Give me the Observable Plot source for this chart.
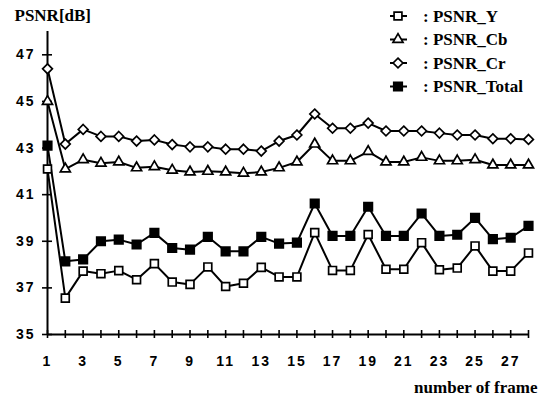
<!DOCTYPE html>
<html><head><meta charset="utf-8">
<script src="https://cdn.jsdelivr.net/npm/d3@7"></script>
<script src="https://cdn.jsdelivr.net/npm/@observablehq/plot@0.6"></script>
<style>
body{margin:0;background:#fff;}
#wrap{position:relative;width:544px;height:396px;background:#fff;}
#wrap g[aria-label="y-axis tick label"] text,
#wrap g[aria-label="x-axis tick label"] text{letter-spacing:2px;}
#wrap g[aria-label="chart title"] text,
#wrap g[aria-label="x title"] text,
#wrap .legend text{font-family:"Liberation Serif",serif !important;font-weight:bold;}
</style></head><body><div id="wrap"></div>
<script>
const frames = [1,2,3,4,5,6,7,8,9,10,11,12,13,14,15,16,17,18,19,20,21,22,23,24,25,26,27,28];
const xTickLabels = [1,3,5,7,9,11,13,15,17,19,21,23,25,27];
const yTicks = [35,37,39,41,43,45,47];
const xDomain = [1,28];
const yDomain = [35,48];
const titleText = "PSNR[dB]";
const xTitleText = "number of frame";

const psnrY = [42.1, 36.56, 37.72, 37.61, 37.74, 37.35, 38.04, 37.25, 37.15, 37.9, 37.06, 37.2, 37.88, 37.47, 37.47, 39.37, 37.75, 37.75, 39.29, 37.8, 37.8, 38.94, 37.78, 37.85, 38.8, 37.72, 37.72, 38.5];
const psnrCb = [45.0, 42.1, 42.5, 42.35, 42.4, 42.15, 42.2, 42.05, 41.97, 42.0, 41.97, 41.92, 41.97, 42.15, 42.4, 43.17, 42.45, 42.45, 42.85, 42.4, 42.4, 42.6, 42.45, 42.45, 42.5, 42.27, 42.27, 42.27];
const psnrCr = [46.4, 43.17, 43.8, 43.5, 43.5, 43.3, 43.35, 43.15, 43.05, 43.05, 42.95, 42.95, 42.87, 43.3, 43.56, 44.46, 43.85, 43.85, 44.07, 43.73, 43.73, 43.73, 43.64, 43.56, 43.56, 43.4, 43.4, 43.37];
const psnrTotal = [43.1, 38.14, 38.22, 39.0, 39.07, 38.86, 39.36, 38.71, 38.64, 39.19, 38.57, 38.57, 39.19, 38.9, 38.94, 40.62, 39.23, 39.23, 40.48, 39.23, 39.23, 40.19, 39.23, 39.28, 40.0, 39.09, 39.15, 39.66];

const seriesNames = ["PSNR_Y", "PSNR_Cb", "PSNR_Cr", "PSNR_Total"];
const seriesValues = [psnrY, psnrCb, psnrCr, psnrTotal];
const seriesSymbols = ["square2", "triangle2", "diamond2", "square2"];
const d3Symbols = [d3.symbolSquare2, d3.symbolTriangle2, d3.symbolDiamond2, d3.symbolSquare2];
const seriesFill = ["#fff", "#fff", "#fff", "#000"];
const seriesR = [5.0, 4.8, 4.4, 5.4];

const tables = seriesValues.map(vals => vals.map((v, i) => ({frame: frames[i], value: v})));

const serif = "Liberation Serif";
const sans = "Liberation Sans";

const marks = [
  Plot.ruleX([xDomain[0]], {y1: yDomain[0], y2: yDomain[1], strokeWidth: 2}),
  Plot.ruleY([yDomain[0]], {x1: xDomain[0], x2: xDomain[1], strokeWidth: 2}),
  Plot.ruleY(yTicks, {y: d => d, x1: xDomain[0], x2: xDomain[0], insetLeft: -5, insetRight: -5, strokeWidth: 1.6}),
  Plot.ruleX(frames, {x: d => d, y1: yDomain[0], y2: yDomain[0], insetTop: -4, insetBottom: -4, strokeWidth: 1.6}),
  Plot.axisY({ticks: yTicks, tickSize: 0, tickPadding: 12, label: null, fontSize: 14, fontWeight: "bold", fontFamily: sans}),
  Plot.axisX({ticks: xTickLabels, tickSize: 0, tickPadding: 22, label: null, fontSize: 14, fontWeight: "bold", fontFamily: sans, tickFormat: d => String(d)})
];
tables.forEach((t, k) => {
  marks.push(Plot.line(t, {x: "frame", y: "value", stroke: "#000", strokeWidth: 2}));
});
tables.forEach((t, k) => {
  marks.push(Plot.dot(t, {x: "frame", y: "value", symbol: () => seriesSymbols[k], r: seriesR[k], fill: seriesFill[k], stroke: "#000", strokeWidth: 1.7}));
});
marks.push(Plot.text([titleText], {ariaLabel: "chart title", frameAnchor: "top-left", dx: -33, dy: -16, textAnchor: "start", lineAnchor: "middle", fontSize: 17, fontWeight: "bold", fontFamily: serif, fill: "#000"}));
marks.push(Plot.text([xTitleText], {ariaLabel: "x title", frameAnchor: "bottom-right", dx: 9, dy: 53, textAnchor: "end", lineAnchor: "middle", fontSize: 17, fontWeight: "bold", fontFamily: serif, fill: "#000"}));

const chart = Plot.plot({
  width: 544, height: 396,
  marginLeft: 47, marginRight: 16, marginTop: 31, marginBottom: 62,
  x: {domain: xDomain},
  y: {domain: yDomain},
  symbol: {type: "identity"},
  style: {background: "#fff", color: "#000", overflow: "visible"},
  marks
});
const wrap = document.getElementById("wrap");
wrap.appendChild(chart);

// legend overlay
const lg = d3.create("svg").attr("class", "legend").attr("width", 544).attr("height", 396)
  .style("position", "absolute").style("left", "0px").style("top", "0px").style("pointer-events", "none");
seriesNames.forEach((name, i) => {
  const y = 16 + i * 23.5;
  const g = lg.append("g").attr("transform", `translate(398,${y})`);
  g.append("line").attr("x1", -8).attr("x2", 9).attr("stroke", "#000").attr("stroke-width", 2);
  g.append("path").attr("d", d3.symbol(d3Symbols[i], Math.PI * seriesR[i] * seriesR[i])())
    .attr("fill", seriesFill[i]).attr("stroke", "#000").attr("stroke-width", 1.7);
  lg.append("text").attr("x", 423).attr("y", y).attr("dy", "0.35em")
    .style("font-size", "17px").attr("fill", "#000")
    .text(": " + name);
});
wrap.appendChild(lg.node());
</script></body></html>
